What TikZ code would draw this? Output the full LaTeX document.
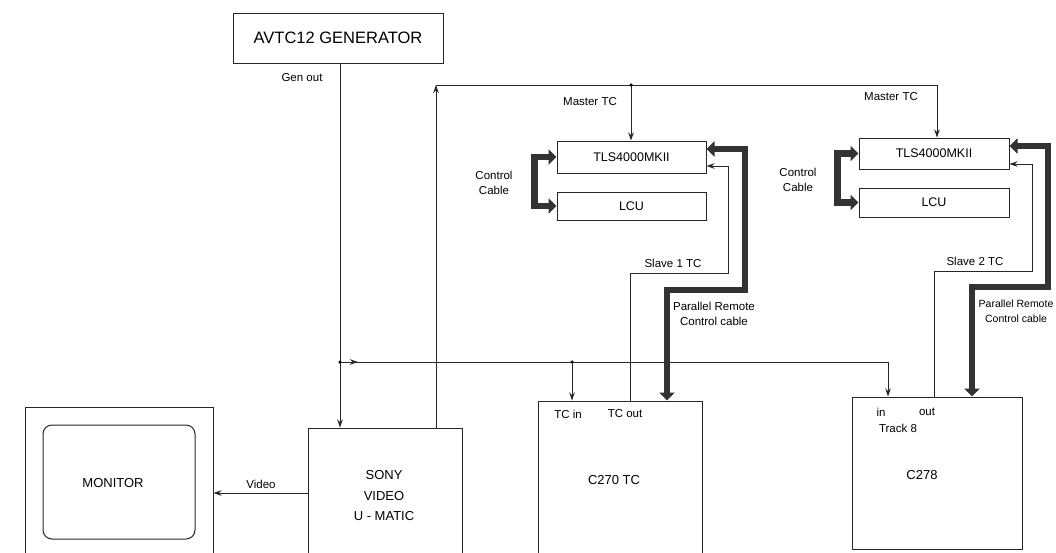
\documentclass[tikz,border=0pt]{standalone}
\usepackage{fontspec}
\setmainfont{Liberation Sans}
\usetikzlibrary{arrows.meta}
\tikzset{
  ln/.style={draw=black!85, line width=1pt},
  arr/.style={ln, -{Stealth[length=8pt,width=5.5pt]}},
  thick2/.style={draw=black!80, line width=6.5pt, {Triangle[length=8pt,width=15pt]}-{Triangle[length=8pt,width=15pt]}},
  box/.style={ln, rectangle, inner sep=0pt, font=\fontsize{12.5}{15}\selectfont},
  bigbox/.style={ln, rectangle, inner sep=0pt},
  lbl/.style={inner sep=0pt, align=center, font=\fontsize{11.5}{15.5}\selectfont},
  mlbl/.style={inner sep=0pt, align=center, font=\fontsize{13}{20.5}\selectfont},
  dot/.style={circle, fill=black, inner sep=0pt, minimum size=3.5pt},
}
\begin{document}
\begin{tikzpicture}[x=1pt,y=-1pt]
\useasboundingbox[fill=white] (0,0) rectangle (1056,552);
% boxes
\node[box, minimum width=210pt, minimum height=50pt, font=\fontsize{16.5}{19}\selectfont] (gen) at (338,38) {AVTC12 GENERATOR};
\node[box, minimum width=149pt, minimum height=32pt] (tls1) at (631.5,157) {TLS4000MKII};
\node[box, minimum width=149pt, minimum height=28pt] (lcu1) at (631.5,206) {LCU};
\node[box, minimum width=150pt, minimum height=31pt] (tls2) at (934,153.5) {TLS4000MKII};
\node[box, minimum width=150pt, minimum height=29pt] (lcu2) at (934,202.5) {LCU};
\node[bigbox, minimum width=154pt, minimum height=130pt] (sony) at (385,493) {};
\node[bigbox, minimum width=188pt, minimum height=151pt] (mon) at (119,482.5) {};
\node[bigbox, rounded corners=9pt, minimum width=152pt, minimum height=114pt] (screen) at (119,482) {};
\node[bigbox, minimum width=164pt, minimum height=157pt] (c270) at (620,479.5) {};
\node[bigbox, minimum width=170pt, minimum height=152pt] (c278) at (937,473) {};
% texts in big boxes
\node[mlbl] (sonytxt) at (384,496) {SONY\\VIDEO\\U - MATIC};
\node[mlbl] (montxt) at (113,483) {MONITOR};
\node[mlbl] (c270txt) at (614,480) {C270 TC};
\node[mlbl] (c278txt) at (922,475) {C278};
\node[lbl] (tcin) at (568,414) {TC in};
\node[lbl] (tcout) at (625,414) {TC out};
\node[lbl] (in2) at (881,412) {in};
\node[lbl] (out2) at (927,412) {out};
\node[lbl] (trk) at (898,428) {Track 8};
% labels
\node[lbl] (genout) at (302,78) {Gen out};
\node[lbl] (mtc1) at (590,102) {Master TC};
\node[lbl] (mtc2) at (891,97) {Master TC};
\node[lbl] (cc1) at (494,183) {Control\\Cable};
\node[lbl] (cc2) at (798,180) {Control\\Cable};
\node[lbl] (s1) at (673,263) {Slave 1 TC};
\node[lbl] (s2) at (975,261) {Slave 2 TC};
\node[lbl] (prc1) at (714,314) {Parallel Remote\\Control cable};
\node[lbl, font=\fontsize{10.5}{15.5}\selectfont] (prc2) at (1016,311) {Parallel Remote\\Control cable};
\node[lbl] (video) at (261,484) {Video};
% coordinates
\coordinate (mtop) at (436,85);
\coordinate (mdot) at (631,85);
\coordinate (mright) at (937,85);
\coordinate (gj) at (340,362);
\coordinate (gj2) at (572,362);
\coordinate (gend) at (888,362);
% gen out
\draw[arr] (gen.south -| gj) -- (sony.north -| gj);
\draw[arr] (gj) -- (358,362);
\draw[ln] (gj) -- (gend);
\draw[arr] (gend) -- (c278.north -| gend);
\draw[arr] (gj2) -- (c270.north -| gj2);
\node[dot] (d1) at (gj) {};
\node[dot] (d2) at (gj2) {};
% master TC
\draw[arr] (sony.north -| mtop) -- (mtop);
\draw[arr] (mtop) -- (mright) -- (tls2.north -| mright);
\draw[arr] (mdot) -- (tls1.north -| mdot);
\node[dot] (d3) at (mdot) {};
% control cables
\draw[thick2] (tls1.west) -- ++(-22,0) |- (lcu1.west);
\draw[thick2] (tls2.west) -- ++(-21,0) |- (lcu2.west);
% parallel remote
\draw[thick2] (c270.north -| 667,0) -- (667,290) -- (745,290) -- (745,149) -- (tls1.east |- 0,149);
\draw[thick2] (c278.north -| 972,0) -- (972,287) -- (1048,287) -- (1048,146) -- (tls2.east |- 0,146);
% slave TC
\draw[arr] (c270.north -| 630,0) -- (630,273) -- (728,273) -- (728,166) -- (tls1.east |- 0,166);
\draw[arr] (c278.north -| 934,0) -- (934,271) -- (1032,271) -- (1032,164) -- (tls2.east |- 0,164);
% video
\draw[arr] (sony.west |- 0,493) -- (mon.east |- 0,493);
\end{tikzpicture}
\end{document}
